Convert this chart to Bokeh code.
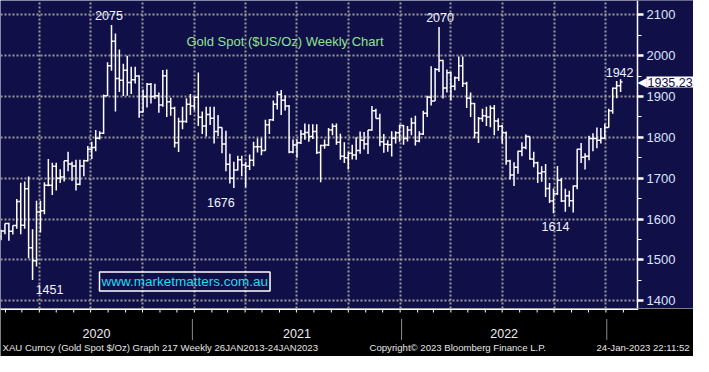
import pandas as pd
from bokeh.plotting import figure
from bokeh.layouts import column
from bokeh.models import Range1d, Label, Grid, FixedTicker, SingleIntervalTicker, ColumnDataSource
from bokeh.core.properties import value
from bokeh.embed import file_html
from bokeh.resources import INLINE

# ---------------- data (weekly XAU spot, week ending Friday) ----------------
first_week = "2020-01-24"
opens = [1557, 1571, 1589, 1570, 1584, 1643, 1585, 1674, 1530, 1498, 1617, 1620, 1683, 1683, 1729, 1700,
         1703, 1743, 1735, 1730, 1685, 1730, 1743, 1771, 1775, 1798, 1810, 1902, 1975, 2035, 1944, 1940,
         1964, 1934, 1941, 1950, 1862, 1900, 1930, 1900, 1902, 1879, 1951, 1887, 1871, 1787, 1839, 1839,
         1881, 1877, 1898, 1849, 1828, 1856, 1847, 1814, 1824, 1784, 1734, 1700, 1720, 1745, 1732, 1729,
         1744, 1777, 1777, 1768, 1831, 1843, 1881, 1905, 1891, 1877, 1764, 1781, 1787, 1808, 1812, 1802,
         1814, 1763, 1780, 1781, 1818, 1827, 1788, 1754, 1750, 1761, 1757, 1768, 1793, 1784, 1818, 1865,
         1846, 1789, 1783, 1782, 1798, 1811, 1829, 1797, 1818, 1835, 1791, 1808, 1859, 1898, 1889, 1966,
         1988, 1921, 1958, 1925, 1946, 1975, 1932, 1896, 1883, 1811, 1846, 1853, 1850, 1871, 1840, 1827,
         1811, 1742, 1708, 1727, 1766, 1775, 1802, 1747, 1738, 1712, 1716, 1675, 1644, 1662, 1695, 1644,
         1657, 1645, 1681, 1771, 1751, 1754, 1797, 1797, 1793, 1798, 1824, 1865, 1920, 1926]
highs = [1574, 1589, 1591, 1584, 1649, 1689, 1692, 1704, 1575, 1645, 1645, 1690, 1747, 1738, 1738, 1722,
         1743, 1765, 1740, 1745, 1745, 1745, 1779, 1789, 1818, 1815, 1905, 1984, 2075, 2054, 2015, 1980,
         2000, 1973, 1973, 1952, 1917, 1933, 1933, 1931, 1910, 1965, 1966, 1897, 1875, 1848, 1875, 1896,
         1906, 1900, 1959, 1863, 1875, 1875, 1875, 1855, 1825, 1816, 1760, 1740, 1755, 1755, 1740, 1758,
         1789, 1797, 1798, 1843, 1845, 1890, 1913, 1916, 1903, 1879, 1795, 1795, 1818, 1834, 1832, 1832,
         1832, 1782, 1795, 1823, 1834, 1834, 1809, 1788, 1764, 1782, 1800, 1814, 1813, 1818, 1877, 1870,
         1858, 1808, 1793, 1815, 1815, 1831, 1830, 1828, 1848, 1853, 1815, 1865, 1902, 1974, 1970, 2070,
         1990, 1966, 1960, 1949, 1998, 1998, 1936, 1910, 1884, 1850, 1870, 1875, 1878, 1879, 1847, 1830,
         1814, 1745, 1739, 1767, 1788, 1807, 1802, 1765, 1740, 1729, 1735, 1688, 1675, 1730, 1700, 1674,
         1669, 1682, 1772, 1786, 1761, 1804, 1810, 1824, 1823, 1833, 1870, 1922, 1938, 1942]
lows = [1548, 1563, 1547, 1562, 1576, 1563, 1576, 1504, 1451, 1484, 1567, 1612, 1680, 1659, 1670, 1688,
        1692, 1717, 1693, 1670, 1683, 1705, 1741, 1747, 1766, 1795, 1808, 1901, 1963, 1863, 1911, 1901,
        1902, 1906, 1932, 1848, 1861, 1873, 1883, 1894, 1860, 1875, 1850, 1853, 1775, 1764, 1820, 1836,
        1855, 1866, 1828, 1808, 1802, 1830, 1785, 1803, 1761, 1717, 1687, 1676, 1719, 1705, 1678, 1720,
        1729, 1763, 1756, 1767, 1808, 1840, 1868, 1855, 1866, 1761, 1761, 1750, 1784, 1794, 1789, 1796,
        1759, 1690, 1772, 1779, 1805, 1782, 1745, 1737, 1721, 1746, 1745, 1760, 1770, 1759, 1816, 1846,
        1778, 1762, 1765, 1753, 1785, 1789, 1782, 1790, 1805, 1780, 1788, 1806, 1850, 1878, 1889, 1960,
        1895, 1910, 1890, 1915, 1938, 1923, 1872, 1850, 1798, 1786, 1838, 1828, 1825, 1805, 1816, 1785,
        1733, 1697, 1681, 1711, 1754, 1771, 1745, 1727, 1688, 1691, 1654, 1639, 1614, 1659, 1642, 1618,
        1630, 1616, 1673, 1737, 1721, 1744, 1766, 1773, 1785, 1796, 1824, 1858, 1896, 1911]
closes = [1571, 1589, 1570, 1584, 1643, 1585, 1674, 1530, 1498, 1617, 1620, 1683, 1683, 1729, 1700, 1703,
          1743, 1735, 1730, 1685, 1730, 1743, 1771, 1775, 1798, 1810, 1902, 1975, 2035, 1944, 1940, 1964,
          1934, 1941, 1950, 1862, 1900, 1930, 1900, 1902, 1879, 1951, 1887, 1871, 1787, 1839, 1839, 1881,
          1877, 1898, 1849, 1828, 1856, 1847, 1814, 1824, 1784, 1734, 1700, 1720, 1745, 1732, 1729, 1744,
          1777, 1777, 1768, 1831, 1843, 1881, 1905, 1891, 1877, 1764, 1781, 1787, 1808, 1812, 1802, 1814,
          1763, 1780, 1781, 1818, 1827, 1788, 1754, 1750, 1761, 1757, 1768, 1793, 1784, 1818, 1865, 1846,
          1789, 1783, 1782, 1798, 1811, 1829, 1797, 1818, 1835, 1791, 1808, 1859, 1898, 1889, 1966, 1988,
          1921, 1958, 1925, 1946, 1975, 1932, 1896, 1883, 1811, 1846, 1853, 1850, 1871, 1840, 1827, 1811,
          1742, 1708, 1727, 1766, 1775, 1802, 1747, 1738, 1712, 1716, 1675, 1644, 1662, 1695, 1644, 1657,
          1645, 1681, 1771, 1751, 1754, 1797, 1797, 1793, 1798, 1824, 1865, 1920, 1926, 1935.23]

peak_texts = ["2075", "1451", "1676", "2070", "1614", "1942"]
peak_weeks = ["2020-08-07", "2020-03-20", "2021-03-12", "2022-03-11", "2022-09-30", "2023-01-27"]
peak_values = [2075, 1451, 1676, 2070, 1614, 1942]
year_labels = ["2020", "2021", "2022"]
last_price = 1935.23
chart_title = "Gold Spot ($US/Oz) Weekly Chart"
watermark = "www.marketmatters.com.au"
footer_texts = ["XAU Curncy (Gold Spot   $/Oz) Graph 217  Weekly 26JAN2013-24JAN2023",
                "Copyright\u00a9 2023 Bloomberg Finance L.P.",
                "24-Jan-2023 22:11:52"]

# ---------------- styling ----------------
NAVY = "#100f48"
GRID = "#9a9a9a"
W, H_MAIN, H_FOOT, AX_W = 693, 308, 48, 56
FONT = "Liberation Sans"

weeks = pd.date_range(first_week, periods=len(opens), freq="W-FRI")
x_start = pd.Timestamp("2020-01-23 03:00")
x_end = pd.Timestamp("2023-02-26")            # date at the price axis line
x_full = x_start + (x_end - x_start) * (W / (W - AX_W))   # right edge incl. axis strip
xr = Range1d(x_start, x_full)
ms = lambda t: t.timestamp() * 1000

p = figure(width=W, height=H_MAIN, x_axis_type="datetime", x_axis_location=None,
           y_axis_location="right", x_range=xr, y_range=Range1d(1381, 2135),
           output_backend="svg", toolbar_location=None, min_border=0,
           background_fill_color=NAVY, border_fill_color=NAVY)
p.outline_line_color = None

# strip behind the price axis (hides grid there)
p.quad(left=[x_end], right=[x_full], bottom=[1381], top=[2135], fill_color=NAVY, line_color=None)

ax = p.yaxis[0]
ax.fixed_location = ms(x_end)
ax.ticker = SingleIntervalTicker(interval=100, num_minor_ticks=2)
ax.axis_line_color = "white"
ax.axis_line_width = 1.5
ax.major_tick_line_color = "white"
ax.major_tick_line_width = 2.5
ax.major_tick_out = 6
ax.major_tick_in = 0
ax.minor_tick_line_color = "white"
ax.minor_tick_out = 4
ax.minor_tick_in = 0
ax.major_label_text_color = "#dde4ff"
ax.major_label_text_font = FONT
ax.major_label_text_font_size = "13px"
ax.major_label_standoff = 3

p.ygrid.grid_line_color = GRID
p.ygrid.grid_line_dash = "2 2"
p.ygrid.grid_line_width = 2
p.xgrid.visible = False
quarters = pd.date_range("2020-04-01", "2023-01-01", freq="QS")
p.add_layout(Grid(dimension=0, ticker=FixedTicker(ticks=[ms(t) for t in quarters]),
                  grid_line_color=GRID, grid_line_dash="2 2", grid_line_width=2))

tick = pd.Timedelta(days=3.5)
src = ColumnDataSource(dict(t=weeks, o=opens, h=highs, l=lows, c=closes,
                            t0=weeks - tick, t1=weeks + tick))
p.segment(x0="t", y0="l", x1="t", y1="h", source=src, line_color="white", line_width=1.5)
p.segment(x0="t0", y0="o", x1="t", y1="o", source=src, line_color="white", line_width=1.5)
p.segment(x0="t", y0="c", x1="t1", y1="c", source=src, line_color="white", line_width=1.5)

peak_dx = [-2.5, 17, -13, 1, 2, -1]
peak_dy = [-10, 10, 15, -10, 13, -7]
ann = ColumnDataSource(dict(t=pd.to_datetime(peak_weeks), v=peak_values, s=peak_texts,
                            dx=peak_dx, dy=peak_dy))
p.text(x="t", y="v", text="s", x_offset="dx", y_offset="dy", source=ann,
       text_align="center", text_baseline="middle", text_color="#f2f4ff",
       text_font=value(FONT), text_font_size="12.5px")

p.add_layout(Label(x=186, y=267, x_units="screen", y_units="screen", text=chart_title,
                   text_color="#8fe48f", text_font=FONT, text_font_size="13px",
                   text_baseline="middle"))
p.add_layout(Label(x=99, y=27, x_units="screen", y_units="screen", text=watermark,
                   text_color="#20dcf0", text_font=FONT, text_font_size="13.5px",
                   text_baseline="middle", border_line_color="white", border_line_width=1.5,
                   padding=2))
p.add_layout(Label(x=637, y=last_price, x_units="screen", y_units="data", text="\u25c0",
                   text_color="white", text_font="DejaVu Sans", text_font_size="12px",
                   text_baseline="middle"))
p.add_layout(Label(x=646, y=last_price, x_units="screen", y_units="data", text=f"{last_price:.2f}",
                   text_color=NAVY, text_font=FONT, text_font_size="12.5px",
                   text_baseline="middle", background_fill_color="white", padding=1))

# ---------------- footer (date strip) ----------------
f = figure(width=W, height=H_FOOT, x_axis_type="datetime", x_axis_location=None,
           y_axis_location=None, x_range=xr, y_range=Range1d(0, H_FOOT),
           output_backend="svg", toolbar_location=None, min_border=0,
           background_fill_color="black", border_fill_color="black")
f.outline_line_color = None
f.grid.visible = False

f.segment(x0=[x_start], y0=[H_FOOT - 0.75], x1=[x_end], y1=[H_FOOT - 0.75],
          line_color="white", line_width=1.5)
f.segment(x0=[x_end], y0=[H_FOOT], x1=[x_end], y1=[H_FOOT - 1.5], line_color="white", line_width=1.5)
months = pd.date_range("2020-02-01", "2023-02-01", freq="MS")
f.segment(x0=months, y0=H_FOOT, x1=months, y1=H_FOOT - 4, line_color="white", line_width=1)

seps = [weeks[i - 1] + (weeks[i] - weeks[i - 1]) / 2
        for i in range(1, len(weeks)) if weeks[i].year != weeks[i - 1].year]
f.segment(x0=seps, y0=37.5, x1=seps, y1=16.5, line_color="#8a8a8a", line_width=1)
bounds = [x_start] + seps
year_x = [bounds[i] + (bounds[i + 1] - bounds[i]) / 2 for i in range(len(year_labels))]
f.text(x=year_x, y=[23] * len(year_labels), text=year_labels, text_align="center",
       text_baseline="middle", text_color="#ececf4", text_font=value(FONT),
       text_font_size="12.5px")

for fx, txt in zip([2, 369, 596], footer_texts):
    f.add_layout(Label(x=fx, y=9, x_units="screen", y_units="screen", text=txt,
                       text_color="#e6e6e6", text_font=FONT, text_font_size="9.6px",
                       text_baseline="middle"))

layout = column(p, f, spacing=0)
open("out.html", "w").write(file_html(layout, INLINE))
